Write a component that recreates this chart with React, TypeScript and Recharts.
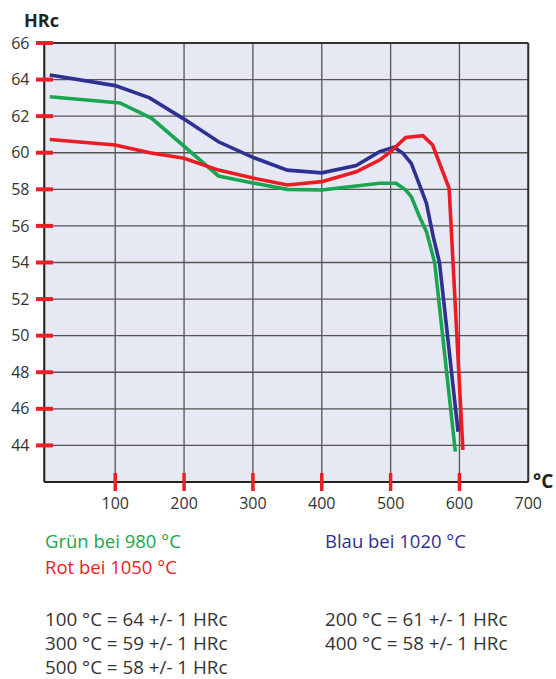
import React from "react";
import { LineChart, Line, XAxis, YAxis, CartesianGrid, ReferenceLine } from "recharts";

const xTicks = [100, 200, 300, 400, 500, 600, 700];
const yTicks = [44, 46, 48, 50, 52, 54, 56, 58, 60, 62, 64, 66];

const blueSeries = [
  { x: 5, y: 64.25 }, { x: 100, y: 63.67 }, { x: 150, y: 63.0 }, { x: 200, y: 61.84 },
  { x: 250, y: 60.6 }, { x: 300, y: 59.75 }, { x: 350, y: 59.05 }, { x: 400, y: 58.9 },
  { x: 450, y: 59.3 }, { x: 484, y: 60.06 }, { x: 505, y: 60.3 }, { x: 518, y: 59.97 },
  { x: 530, y: 59.42 }, { x: 542, y: 58.24 }, { x: 552, y: 57.24 }, { x: 562, y: 55.4 },
  { x: 571, y: 54.0 }, { x: 598, y: 44.75 },
];

const redSeries = [
  { x: 5, y: 60.72 }, { x: 100, y: 60.42 }, { x: 150, y: 60.0 }, { x: 200, y: 59.7 },
  { x: 250, y: 59.05 }, { x: 300, y: 58.62 }, { x: 350, y: 58.24 }, { x: 400, y: 58.42 },
  { x: 450, y: 58.96 }, { x: 484, y: 59.6 }, { x: 500, y: 60.06 }, { x: 522, y: 60.84 },
  { x: 547, y: 60.93 }, { x: 561, y: 60.42 }, { x: 585, y: 58.05 }, { x: 605, y: 43.75 },
];

const greenSeries = [
  { x: 5, y: 63.06 }, { x: 107, y: 62.72 }, { x: 153, y: 61.88 }, { x: 250, y: 58.73 },
  { x: 300, y: 58.35 }, { x: 350, y: 58.0 }, { x: 400, y: 57.96 }, { x: 450, y: 58.18 },
  { x: 484, y: 58.33 }, { x: 508, y: 58.33 }, { x: 522, y: 57.96 }, { x: 530, y: 57.6 },
  { x: 542, y: 56.5 }, { x: 552, y: 55.7 }, { x: 564, y: 54.0 }, { x: 594, y: 43.66 },
];

const legendLeft = ["Grün bei 980 °C", "Rot bei 1050 °C"];
const legendRight = ["Blau bei 1020 °C"];
const notesLeft = ["100 °C = 64 +/- 1 HRc", "300 °C = 59 +/- 1 HRc", "500 °C = 58 +/- 1 HRc"];
const notesRight = ["200 °C = 61 +/- 1 HRc", "400 °C = 58 +/- 1 HRc"];

const GREEN = "#1aa650";
const RED = "#ec1c24";
const BLUE = "#2e3192";
const TICK_RED = "#ea2027";
const FONT = "'Open Sans', 'Noto Sans', sans-serif";

const YTick = (props: any) => {
  const { y, payload } = props;
  return (
    <g>
      <text x={29.5} y={y} dy="0.35em" textAnchor="end" fontSize={16} fill="#333" fontFamily={FONT}>
        {payload.value}
      </text>
      <rect x={36} y={y - 2} width={17} height={4} fill={TICK_RED} />
    </g>
  );
};

const XTick = (props: any) => {
  const { x, payload } = props;
  return (
    <g>
      <text x={x} y={509} textAnchor="middle" fontSize={16} fill="#333" fontFamily={FONT}>
        {payload.value}
      </text>
      {payload.value < 700 && <rect x={x - 1.75} y={473} width={3.5} height={18} fill={TICK_RED} />}
    </g>
  );
};

export default function App() {
  return (
    <div style={{ position: "absolute", left: 0, top: 0, width: 556, height: 679, background: "#fff" }}>
      <LineChart
        width={556}
        height={679}
        margin={{ top: 43, right: 27.7, left: 4.3, bottom: 167 }}
      >
        <CartesianGrid fill="#e6e8f4" stroke="#555" strokeWidth={1.3} />
        <XAxis
          type="number"
          dataKey="x"
          domain={[-3, 700]}
          ticks={xTicks}
          allowDataOverflow
          height={30}
          tickSize={0}
          tickMargin={0}
          tickLine={false}
          axisLine={{ stroke: "#222", strokeWidth: 2 }}
          tick={<XTick />}
          interval={0}
        />
        <YAxis
          type="number"
          dataKey="y"
          domain={[42, 66]}
          ticks={yTicks}
          allowDataOverflow
          width={40}
          tickSize={0}
          tickMargin={0}
          tickLine={false}
          axisLine={{ stroke: "#222", strokeWidth: 2 }}
          tick={<YTick />}
          interval={0}
        />
        <ReferenceLine y={66} stroke="#333" strokeWidth={2} />
        <ReferenceLine x={700} stroke="#333" strokeWidth={2} />
        <Line data={greenSeries} dataKey="y" type="linear" stroke={GREEN} strokeWidth={3.6} dot={false} isAnimationActive={false} />
        <Line data={blueSeries} dataKey="y" type="linear" stroke={BLUE} strokeWidth={3.6} dot={false} isAnimationActive={false} />
        <Line data={redSeries} dataKey="y" type="linear" stroke={RED} strokeWidth={3.6} dot={false} isAnimationActive={false} />
      </LineChart>
      <svg width={556} height={679} style={{ position: "absolute", left: 0, top: 0, pointerEvents: "none" }}>
        <text x={24} y={27.3} fontSize={18} fontWeight="bold" fill="#222" fontFamily={FONT}>HRc</text>
        <text x={533} y={488} fontSize={19} fontWeight="bold" fill="#222" fontFamily={FONT}>°C</text>
        <text x={45} y={548.3} fontSize={18.5} fill={GREEN} fontFamily={FONT}>{legendLeft[0]}</text>
        <text x={45} y={574.3} fontSize={18.5} fill={RED} fontFamily={FONT}>{legendLeft[1]}</text>
        <text x={325} y={548.3} fontSize={18.5} fill={BLUE} fontFamily={FONT}>{legendRight[0]}</text>
        {notesLeft.map((t, i) => (
          <text key={t} x={45} y={625.5 + i * 24} fontSize={18.8} fill="#333" fontFamily={FONT}>{t}</text>
        ))}
        {notesRight.map((t, i) => (
          <text key={t} x={325} y={625.5 + i * 24} fontSize={18.8} fill="#333" fontFamily={FONT}>{t}</text>
        ))}
      </svg>
    </div>
  );
}
